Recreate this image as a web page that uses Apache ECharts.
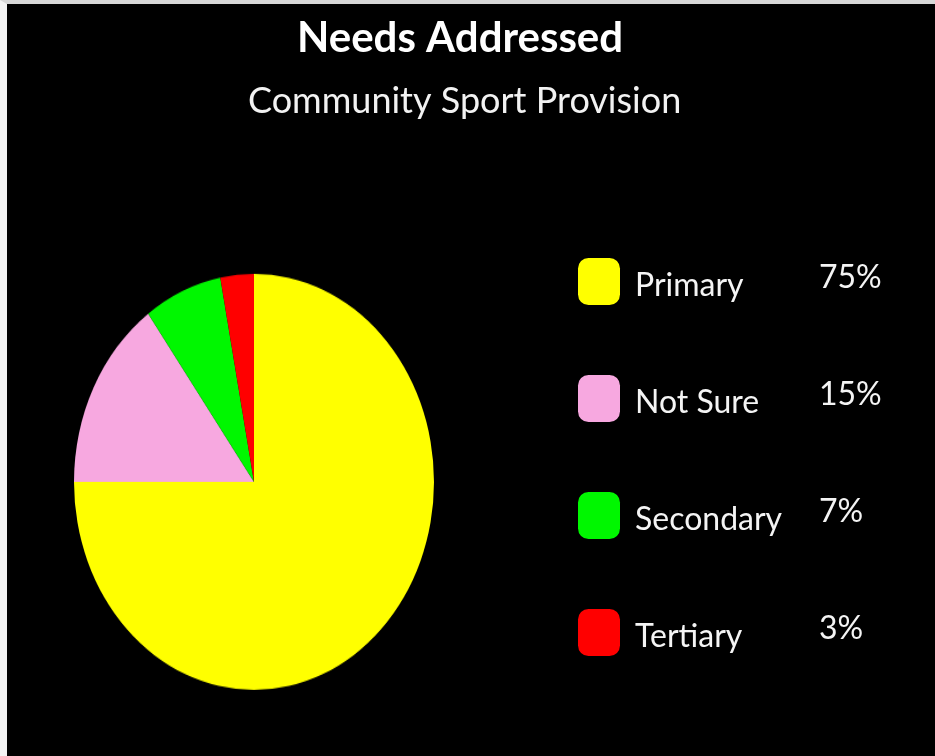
<!DOCTYPE html>
<html><head><meta charset="utf-8">
<script src="https://cdn.jsdelivr.net/npm/echarts@6/dist/echarts.min.js"></script>
<style>
html,body{margin:0;padding:0;background:#fff;}
#wrap{position:absolute;left:0;top:0;width:935px;height:756px;background:#000;border-top:4px solid #d8d8d8;border-left:7px solid #f4f4f4;box-sizing:border-box;overflow:hidden;}
#main{position:absolute;left:0;top:0;width:928px;height:752px;}
#pie{position:absolute;left:0;top:0;width:500px;height:500px;transform-origin:0 0;}
</style></head>
<body>
<div id="wrap"><div id="main"></div><div id="pie"></div></div>
<script>
const categories = ['Primary', 'Not Sure', 'Secondary', 'Tertiary'];
const values = [75, 15, 7, 3];
const valueLabels = ['75%', '15%', '7%', '3%'];
const colors = ['#FFFF00', '#F7A8E0', '#00F700', '#FF0000'];
const titleText = 'Needs Addressed';
const subtitleText = 'Community Sport Provision';

const FONT = 'Lato';
// Pie: drawn in a square div and stretched vertically to match the elliptical reference
const pieDiv = document.getElementById('pie');
const rx = 180, ry = 208, cx = 247, cy = 478;
const sy = ry / rx;
pieDiv.style.left = (cx - 250) + 'px';
pieDiv.style.top = (cy - 250 * sy) + 'px';
pieDiv.style.transform = 'scaleY(' + sy + ')';

const pieChart = echarts.init(pieDiv, null, {renderer: 'canvas'});
pieChart.setOption({
  animation: false,
  series: [{
    type: 'pie',
    center: [250, 250],
    radius: rx,
    startAngle: 90,
    clockwise: true,
    label: {show: false},
    labelLine: {show: false},
    itemStyle: {borderWidth: 0},
    emphasis: {disabled: true},
    data: categories.map((c, i) => ({name: c, value: values[i], itemStyle: {color: colors[i]}}))
  }]
});

const main = echarts.init(document.getElementById('main'), null, {renderer: 'canvas'});
main.setOption({
  animation: false,
  backgroundColor: '#000',
  title: [{
    text: titleText,
    left: 285,
    top: 8,
    textStyle: {color: '#fff', fontFamily: FONT, fontWeight: 'bold', fontSize: 42}
  }, {
    text: subtitleText,
    left: 236,
    top: 74,
    textStyle: {color: '#f2f2f2', fontFamily: FONT, fontWeight: 'normal', fontSize: 36}
  }],
  legend: {
    orient: 'vertical',
    left: 566,
    top: 249,
    itemWidth: 42,
    itemHeight: 47,
    itemGap: 70,
    icon: 'roundRect',
    selectedMode: false,
    data: categories,
    formatter: function (name) {
      const i = categories.indexOf(name);
      return '{a|' + name + '}{b|' + valueLabels[i] + '}';
    },
    textStyle: {
      rich: {
        a: {color: '#f4f4f4', fontFamily: FONT, fontSize: 32, width: 184, padding: [8, 0, 0, 10]},
        b: {color: '#f4f4f4', fontFamily: FONT, fontSize: 32, padding: [0, 0, 8, 0]}
      }
    }
  },
  series: [{
    type: 'pie',
    radius: 0,
    center: [-100, -100],
    silent: true,
    label: {show: false},
    data: categories.map((c, i) => ({name: c, value: values[i], itemStyle: {color: colors[i]}}))
  }]
});
</script>
</body></html>
